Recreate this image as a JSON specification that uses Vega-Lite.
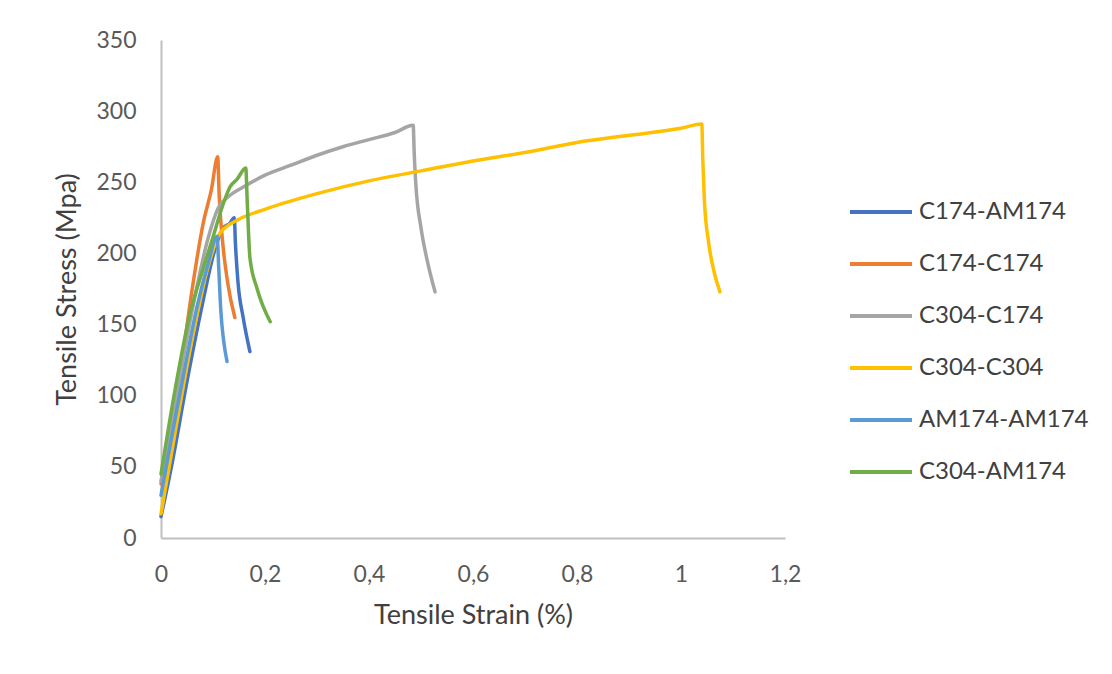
{
  "$schema": "https://vega.github.io/schema/vega-lite/v6.json",
  "autosize": {"type": "none"},
  "width": 624,
  "height": 498,
  "padding": {"left": 161, "top": 40, "right": 327, "bottom": 136},
  "background": "white",
  "config": {"view": {"stroke": null}},
  "data": {"values": [
    {"s": "C174-AM174", "n": 1, "x": 0, "y": 15},
    {"s": "C174-AM174", "n": 2, "x": 0.02, "y": 50},
    {"s": "C174-AM174", "n": 3, "x": 0.05, "y": 110},
    {"s": "C174-AM174", "n": 4, "x": 0.08, "y": 165},
    {"s": "C174-AM174", "n": 5, "x": 0.1, "y": 198},
    {"s": "C174-AM174", "n": 6, "x": 0.112, "y": 212},
    {"s": "C174-AM174", "n": 7, "x": 0.12, "y": 218},
    {"s": "C174-AM174", "n": 8, "x": 0.132, "y": 221},
    {"s": "C174-AM174", "n": 9, "x": 0.141, "y": 225},
    {"s": "C174-AM174", "n": 10, "x": 0.143, "y": 208},
    {"s": "C174-AM174", "n": 11, "x": 0.148, "y": 180},
    {"s": "C174-AM174", "n": 12, "x": 0.158, "y": 155},
    {"s": "C174-AM174", "n": 13, "x": 0.171, "y": 131},

    {"s": "C174-C174", "n": 1, "x": 0, "y": 38},
    {"s": "C174-C174", "n": 2, "x": 0.02, "y": 80},
    {"s": "C174-C174", "n": 3, "x": 0.037, "y": 116},
    {"s": "C174-C174", "n": 4, "x": 0.06, "y": 175},
    {"s": "C174-C174", "n": 5, "x": 0.081, "y": 221},
    {"s": "C174-C174", "n": 6, "x": 0.097, "y": 245},
    {"s": "C174-C174", "n": 7, "x": 0.109, "y": 268},
    {"s": "C174-C174", "n": 8, "x": 0.112, "y": 240},
    {"s": "C174-C174", "n": 9, "x": 0.118, "y": 210},
    {"s": "C174-C174", "n": 10, "x": 0.128, "y": 180},
    {"s": "C174-C174", "n": 11, "x": 0.142, "y": 155},

    {"s": "C304-C174", "n": 1, "x": 0, "y": 40},
    {"s": "C304-C174", "n": 2, "x": 0.03, "y": 100},
    {"s": "C304-C174", "n": 3, "x": 0.06, "y": 160},
    {"s": "C304-C174", "n": 4, "x": 0.09, "y": 210},
    {"s": "C304-C174", "n": 5, "x": 0.11, "y": 232},
    {"s": "C304-C174", "n": 6, "x": 0.13, "y": 240},
    {"s": "C304-C174", "n": 7, "x": 0.16, "y": 247},
    {"s": "C304-C174", "n": 8, "x": 0.2, "y": 255},
    {"s": "C304-C174", "n": 9, "x": 0.25, "y": 262},
    {"s": "C304-C174", "n": 10, "x": 0.3, "y": 269},
    {"s": "C304-C174", "n": 11, "x": 0.35, "y": 275},
    {"s": "C304-C174", "n": 12, "x": 0.4, "y": 280},
    {"s": "C304-C174", "n": 13, "x": 0.45, "y": 285},
    {"s": "C304-C174", "n": 14, "x": 0.485, "y": 290},
    {"s": "C304-C174", "n": 15, "x": 0.487, "y": 270},
    {"s": "C304-C174", "n": 16, "x": 0.49, "y": 249},
    {"s": "C304-C174", "n": 17, "x": 0.5, "y": 218},
    {"s": "C304-C174", "n": 18, "x": 0.512, "y": 195},
    {"s": "C304-C174", "n": 19, "x": 0.527, "y": 173},

    {"s": "C304-C304", "n": 1, "x": 0, "y": 17},
    {"s": "C304-C304", "n": 2, "x": 0.03, "y": 80},
    {"s": "C304-C304", "n": 3, "x": 0.06, "y": 140},
    {"s": "C304-C304", "n": 4, "x": 0.09, "y": 190},
    {"s": "C304-C304", "n": 5, "x": 0.113, "y": 214},
    {"s": "C304-C304", "n": 6, "x": 0.15, "y": 224},
    {"s": "C304-C304", "n": 7, "x": 0.2, "y": 231},
    {"s": "C304-C304", "n": 8, "x": 0.3, "y": 242},
    {"s": "C304-C304", "n": 9, "x": 0.4, "y": 251},
    {"s": "C304-C304", "n": 10, "x": 0.5, "y": 258},
    {"s": "C304-C304", "n": 11, "x": 0.6, "y": 265},
    {"s": "C304-C304", "n": 12, "x": 0.7, "y": 271},
    {"s": "C304-C304", "n": 13, "x": 0.8, "y": 278},
    {"s": "C304-C304", "n": 14, "x": 0.9, "y": 283},
    {"s": "C304-C304", "n": 15, "x": 1.0, "y": 288},
    {"s": "C304-C304", "n": 16, "x": 1.04, "y": 291},
    {"s": "C304-C304", "n": 17, "x": 1.042, "y": 265},
    {"s": "C304-C304", "n": 18, "x": 1.045, "y": 237},
    {"s": "C304-C304", "n": 19, "x": 1.053, "y": 208},
    {"s": "C304-C304", "n": 20, "x": 1.063, "y": 188},
    {"s": "C304-C304", "n": 21, "x": 1.075, "y": 173},

    {"s": "AM174-AM174", "n": 1, "x": 0, "y": 30},
    {"s": "AM174-AM174", "n": 2, "x": 0.02, "y": 70},
    {"s": "AM174-AM174", "n": 3, "x": 0.045, "y": 118},
    {"s": "AM174-AM174", "n": 4, "x": 0.069, "y": 162},
    {"s": "AM174-AM174", "n": 5, "x": 0.09, "y": 192},
    {"s": "AM174-AM174", "n": 6, "x": 0.108, "y": 212},
    {"s": "AM174-AM174", "n": 7, "x": 0.111, "y": 190},
    {"s": "AM174-AM174", "n": 8, "x": 0.115, "y": 160},
    {"s": "AM174-AM174", "n": 9, "x": 0.12, "y": 140},
    {"s": "AM174-AM174", "n": 10, "x": 0.127, "y": 124},

    {"s": "C304-AM174", "n": 1, "x": 0, "y": 45},
    {"s": "C304-AM174", "n": 2, "x": 0.025, "y": 100},
    {"s": "C304-AM174", "n": 3, "x": 0.056, "y": 158},
    {"s": "C304-AM174", "n": 4, "x": 0.08, "y": 188},
    {"s": "C304-AM174", "n": 5, "x": 0.098, "y": 209},
    {"s": "C304-AM174", "n": 6, "x": 0.118, "y": 233},
    {"s": "C304-AM174", "n": 7, "x": 0.133, "y": 247},
    {"s": "C304-AM174", "n": 8, "x": 0.146, "y": 252},
    {"s": "C304-AM174", "n": 9, "x": 0.163, "y": 260},
    {"s": "C304-AM174", "n": 10, "x": 0.166, "y": 235},
    {"s": "C304-AM174", "n": 11, "x": 0.171, "y": 197},
    {"s": "C304-AM174", "n": 12, "x": 0.185, "y": 175},
    {"s": "C304-AM174", "n": 13, "x": 0.21, "y": 152}
  ]},
  "mark": {"type": "line", "strokeWidth": 3.5, "strokeCap": "round", "strokeJoin": "round", "interpolate": "monotone"},
  "encoding": {
    "x": {
      "field": "x", "type": "quantitative",
      "scale": {"domain": [0, 1.2], "nice": false},
      "axis": {
        "values": [0, 0.2, 0.4, 0.6, 0.8, 1, 1.2],
        "labelExpr": "replace(format(datum.value, '~g'), '.', ',')",
        "labelFlush": false,
        "grid": false, "ticks": false,
        "domainColor": "#BFBFBF", "domainWidth": 2,
        "labelFont": "Lato", "labelFontSize": 23, "labelColor": "#595959",
        "labelPadding": 25,
        "title": "Tensile Strain (%)",
        "titleFont": "Lato", "titleFontSize": 27, "titleFontWeight": "normal", "titleColor": "#404040",
        "titlePadding": 16
      }
    },
    "y": {
      "field": "y", "type": "quantitative",
      "scale": {"domain": [0, 350], "nice": false},
      "axis": {
        "values": [0, 50, 100, 150, 200, 250, 300, 350],
        "labelFlush": false,
        "grid": false, "ticks": false,
        "domainColor": "#BFBFBF", "domainWidth": 2,
        "labelFont": "Lato", "labelFontSize": 23, "labelColor": "#595959",
        "labelPadding": 25,
        "title": "Tensile Stress (Mpa)",
        "titleFont": "Lato", "titleFontSize": 27, "titleFontWeight": "normal", "titleColor": "#404040",
        "titlePadding": 14
      }
    },
    "color": {
      "field": "s", "type": "nominal",
      "scale": {
        "domain": ["C174-AM174", "C174-C174", "C304-C174", "C304-C304", "AM174-AM174", "C304-AM174"],
        "range": ["#4472C4", "#ED7D31", "#A5A5A5", "#FFC000", "#5B9BD5", "#70AD47"]
      },
      "legend": {
        "orient": "none", "legendX": 687, "legendY": 139,
        "title": null,
        "symbolType": "stroke", "symbolStrokeWidth": 4, "symbolSize": 3844,
        "labelFont": "Lato", "labelFontSize": 24, "labelColor": "#404040", "labelLimit": 300,
        "rowPadding": 7, "labelOffset": 5, "symbolOffset": 0
      }
    },
    "order": {"field": "n", "type": "quantitative"}
  }
}
